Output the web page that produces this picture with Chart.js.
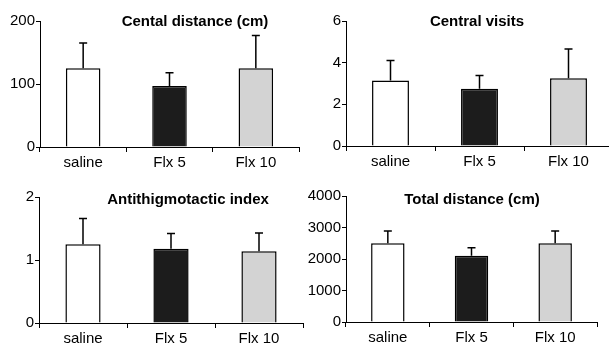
<!DOCTYPE html>
<html>
<head>
<meta charset="utf-8">
<script src="https://cdn.jsdelivr.net/npm/chart.js@4/dist/chart.umd.min.js"></script>
<style>
    html, body { margin: 0; padding: 0; background: #fff; overflow: hidden; }
    body { width: 609px; height: 344px; position: relative; }
    canvas { position: absolute; }
</style>
</head>
<body>
<canvas id="distChart" width="304" height="172" style="left:0;top:0"></canvas>
<canvas id="visitsChart" width="312" height="172" style="left:304px;top:0"></canvas>
<canvas id="indexChart" width="304" height="172" style="left:0;top:172px"></canvas>
<canvas id="totalChart" width="305" height="172" style="left:304px;top:172px"></canvas>
<script>
const categories = ['saline', 'Flx 5', 'Flx 10'];

// moyennes + erreur (barre du haut seulement)
const centralDistance = [125, 97, 125];
const centralDistanceErr = [40, 21, 52];
const centralVisits = [3.15, 2.75, 3.25];
const centralVisitsErr = [0.96, 0.64, 1.41];
const antiIndex = [1.25, 1.18, 1.14];
const antiIndexErr = [0.41, 0.24, 0.29];
const totalDistance = [2500, 2100, 2500];
const totalDistanceErr = [390, 260, 390];

const barColors = ['#ffffff', '#1c1c1c', '#d3d3d3'];
const fontFamily = "'Liberation Sans', Arial, sans-serif";

// barres d'erreur
const errorBars = {
    id: 'errorBars',
    afterDatasetsDraw(chart, args, opts) {
        const ctx = chart.ctx;
        const yScale = chart.scales.y;
        const meta = chart.getDatasetMeta(0);
        const values = chart.data.datasets[0].data;
        ctx.save();
        ctx.strokeStyle = '#000';
        ctx.lineWidth = 1.5;
        meta.data.forEach((bar, i) => {
            const yTop = yScale.getPixelForValue(values[i] + opts.errors[i]);
            ctx.beginPath();
            ctx.moveTo(bar.x, bar.y);
            ctx.lineTo(bar.x, yTop);
            ctx.moveTo(bar.x - 4, yTop);
            ctx.lineTo(bar.x + 4, yTop);
            ctx.stroke();
        });
        ctx.restore();
    }
};

// titre dessiné dans la zone du graphique
const panelTitle = {
    id: 'panelTitle',
    afterDraw(chart, args, opts) {
        const ctx = chart.ctx;
        ctx.save();
        ctx.font = 'bold 15px ' + fontFamily;
        ctx.fillStyle = '#000';
        ctx.textAlign = 'center';
        ctx.textBaseline = 'alphabetic';
        ctx.fillText(opts.text, opts.x, opts.y);
        ctx.restore();
    }
};

function makePanel(id, values, errors, max, step, g) {
    const ctx = document.getElementById(id).getContext('2d');
    return new Chart(ctx, {
        type: 'bar',
        data: {
            labels: categories,
            datasets: [{
                data: values,
                backgroundColor: barColors,
                borderColor: '#000',
                borderWidth: 1.5,
                barPercentage: g.bar,
                categoryPercentage: 1
            }]
        },
        plugins: [errorBars, panelTitle],
        options: {
            responsive: false,
            animation: false,
            events: [],
            layout: { padding: { left: 0, top: g.top, right: g.right, bottom: 0 } },
            plugins: {
                legend: { display: false },
                tooltip: { enabled: false },
                errorBars: { errors: errors },
                panelTitle: { text: g.title, x: g.tx, y: g.ty }
            },
            scales: {
                x: {
                    offset: true,
                    afterFit: s => { s.height = g.xh; },
                    grid: { offset: true, drawOnChartArea: false, tickLength: 5, color: '#000' },
                    border: { color: '#000', width: 1 },
                    ticks: { color: '#000', padding: 2, font: { family: fontFamily, size: 15 } }
                },
                y: {
                    min: 0,
                    max: max,
                    afterFit: s => { s.width = g.yw; },
                    grid: { drawOnChartArea: false, tickLength: 4, color: '#000' },
                    border: { color: '#000', width: 1 },
                    ticks: {
                        stepSize: step,
                        color: '#000',
                        padding: 1,
                        font: { family: fontFamily, size: 15 },
                        callback: value => String(value)
                    }
                }
            }
        }
    });
}

document.addEventListener('DOMContentLoaded', function () {
    makePanel('distChart', centralDistance, centralDistanceErr, 200, 100,
        { top: 21, right: 5, xh: 25, yw: 40, bar: 0.4, title: 'Cental distance (cm)', tx: 195, ty: 26 });
    makePanel('visitsChart', centralVisits, centralVisitsErr, 6, 2,
        { top: 21, right: 3, xh: 26, yw: 42, bar: 0.415, title: 'Central visits', tx: 173, ty: 26 });
    makePanel('indexChart', antiIndex, antiIndexErr, 2, 1,
        { top: 25, right: 1, xh: 21, yw: 39, bar: 0.4, title: 'Antithigmotactic index', tx: 188, ty: 32 });
    makePanel('totalChart', totalDistance, totalDistanceErr, 4000, 1000,
        { top: 24, right: 12, xh: 22, yw: 42, bar: 0.4, title: 'Total distance (cm)', tx: 168, ty: 32 });
});
</script>
</body>
</html>
